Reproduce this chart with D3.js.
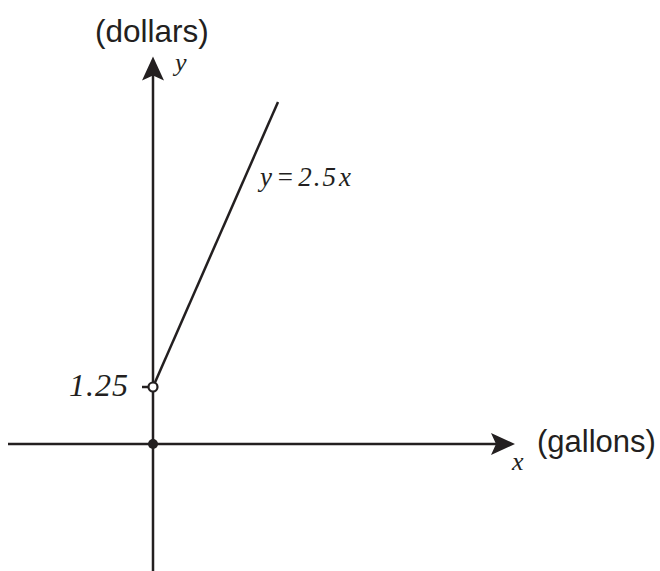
<!DOCTYPE html>
<html>
<head>
    <title></title>
    <meta charset="utf-8" />
    <style>
        body { margin: 0; background: #fff; }
        svg { display: block; }
    </style>
    <script src="https://d3js.org/d3.v7.min.js"></script>
</head>
<body>

<svg id="svg"></svg>

<script>

// data
let lineX = [0, 2.5];          // gallons
let lineY = [1.25, 7.5];       // dollars
let yTicks = [1.25];
let yTickLabels = ["1.25"];
let lineLabel = ["y", "=", "2.5", "x"];
let xAxisLabel = "(gallons)";
let yAxisLabel = "(dollars)";
let xRange = [-2.9, 7.24];     // axis extent in units
let yRange = [-2.8, 8.5];

let realW = 660;
let realH = 571;
let ink = "#231f20";

let svg = d3.select("#svg")
    .attr("width", realW)
    .attr("height", realH);

let x = d3.scaleLinear().domain([0, 1]).range([153, 203]);
let y = d3.scaleLinear().domain([0, 1]).range([444, 398.4]);

// axes
svg.append("line")
    .attr("x1", x(xRange[0])).attr("y1", y(0))
    .attr("x2", x(xRange[1]) - 10).attr("y2", y(0))
    .attr("stroke", ink).attr("stroke-width", 2.5);

svg.append("line")
    .attr("x1", x(0)).attr("y1", y(yRange[0]))
    .attr("x2", x(0)).attr("y2", y(yRange[1]) + 10)
    .attr("stroke", ink).attr("stroke-width", 2.5);

// arrow heads (tip, direction)
function arrowHead(tx, ty, dx, dy) {
    let len = 24, half = 11, notch = 5;
    let px = -dy, py = dx;
    let p = d3.path();
    p.moveTo(tx, ty);
    p.lineTo(tx - dx * len + px * half, ty - dy * len + py * half);
    p.lineTo(tx - dx * (len - notch), ty - dy * (len - notch));
    p.lineTo(tx - dx * len - px * half, ty - dy * len - py * half);
    p.closePath();
    return p.toString();
}

svg.append("path")
    .attr("d", arrowHead(x(xRange[1]), y(0), 1, 0))
    .attr("fill", ink);

svg.append("path")
    .attr("d", arrowHead(x(0), y(yRange[1]), 0, -1))
    .attr("fill", ink);

// function line
svg.append("line")
    .attr("x1", x(lineX[0])).attr("y1", y(lineY[0]))
    .attr("x2", x(lineX[1])).attr("y2", y(lineY[1]))
    .attr("stroke", ink).attr("stroke-width", 2.5);

// ticks
svg.selectAll(".tick")
    .data(yTicks)
    .enter()
    .append("line")
    .attr("class", "tick")
    .attr("x1", x(0) - 11).attr("x2", x(0))
    .attr("y1", d => y(d)).attr("y2", d => y(d))
    .attr("stroke", ink).attr("stroke-width", 2.5);

svg.selectAll(".tick-label")
    .data(yTicks)
    .enter()
    .append("text")
    .attr("class", "tick-label")
    .attr("x", x(0) - 24)
    .attr("y", d => y(d) + 9)
    .attr("text-anchor", "end")
    .attr("font-family", "Liberation Serif")
    .attr("font-style", "italic")
    .attr("font-size", 32)
    .attr("letter-spacing", 1)
    .attr("fill", ink)
    .text((d, i) => yTickLabels[i]);

// open circle at start, filled at origin
svg.append("circle")
    .attr("cx", x(lineX[0])).attr("cy", y(lineY[0]))
    .attr("r", 4.5)
    .attr("fill", "#fff")
    .attr("stroke", ink).attr("stroke-width", 2.2);

svg.append("circle")
    .attr("cx", x(0)).attr("cy", y(0))
    .attr("r", 5)
    .attr("fill", ink);

// labels
let serif = "Liberation Serif";
let sans = "Liberation Sans";

let eq = svg.append("text")
    .attr("x", 260).attr("y", 186)
    .attr("font-family", serif).attr("font-style", "italic")
    .attr("font-size", 27)
    .attr("fill", ink);

eq.selectAll("tspan")
    .data(lineLabel)
    .enter()
    .append("tspan")
    .attr("dx", (d, i) => i === 0 ? 0 : (i < 3 ? 4 : 1))
    .attr("letter-spacing", d => d === "2.5" ? 2 : 0)
    .text(d => d);

svg.append("text")
    .attr("x", 175).attr("y", 71)
    .attr("font-family", serif).attr("font-style", "italic")
    .attr("font-size", 26)
    .attr("fill", ink)
    .text("y");

svg.append("text")
    .attr("x", 512).attr("y", 470)
    .attr("font-family", serif).attr("font-style", "italic")
    .attr("font-size", 26)
    .attr("fill", ink)
    .text("x");

svg.append("text")
    .attr("x", 95).attr("y", 42)
    .attr("font-family", sans)
    .attr("font-size", 31.5)
    .attr("fill", ink)
    .text(yAxisLabel);

svg.append("text")
    .attr("x", 537).attr("y", 452)
    .attr("font-family", sans)
    .attr("font-size", 31)
    .attr("fill", ink)
    .text(xAxisLabel);

</script>

</body>
</html>
